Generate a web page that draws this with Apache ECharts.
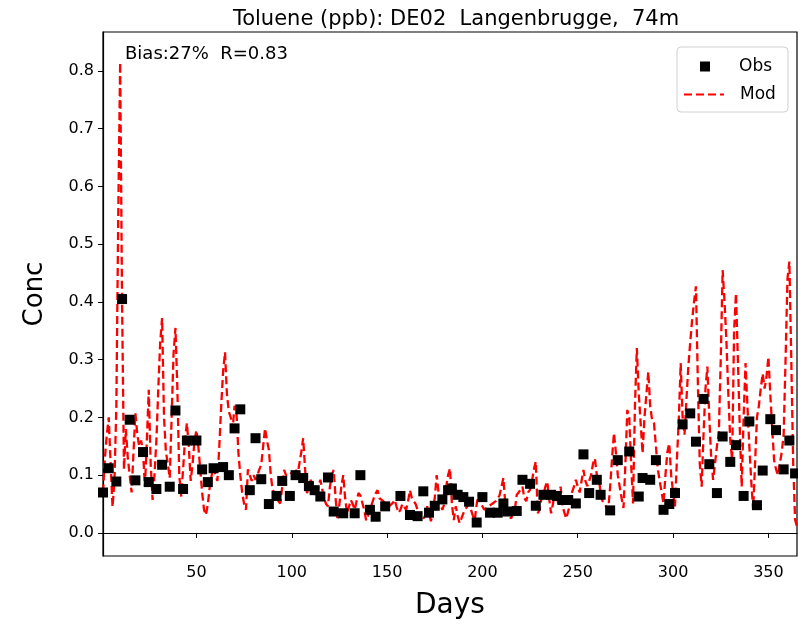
<!DOCTYPE html>
<html lang="en">
<head>
    <meta charset="UTF-8">
    <title>Toluene DE02</title>
    <script type="text/javascript" src="https://cdn.jsdelivr.net/npm/echarts@6/dist/echarts.min.js"></script>
    <style>
        body { margin: 0; background: #fff; overflow: hidden; }
    </style>
</head>
<body>
<div id="container" style="width: 798px; height: 629px"></div>
<script>
    // observed samples: [day, conc]
    let obsDays = [1, 4, 8, 11, 15, 18, 22, 25, 29, 32, 36, 39, 43, 45, 50, 53, 56, 59, 64, 67, 70, 73, 78, 81, 84, 88, 92, 95, 99, 102,
        106, 109, 112, 115, 119, 122, 127, 133, 136, 141, 144, 149, 157, 162, 166, 169, 172, 175, 179, 182, 184, 187, 190, 193, 197, 200,
        204, 208, 211, 213, 218, 221, 225, 228, 232, 236, 239, 242, 245, 249, 253, 256, 260, 262, 267, 271, 277, 282, 284, 288, 291, 295,
        298, 301, 305, 309, 312, 316, 319, 323, 326, 330, 333, 337, 340, 344, 347, 351, 354, 358, 361, 364];
    let obsValues = [0.070, 0.112, 0.089, 0.405, 0.196, 0.091, 0.140, 0.088, 0.076, 0.118, 0.080, 0.212, 0.076, 0.160, 0.160, 0.110, 0.088, 0.112, 0.114, 0.100,
        0.181, 0.214, 0.074, 0.164, 0.093, 0.050, 0.064, 0.090, 0.064, 0.100,
        0.095, 0.081, 0.074, 0.063, 0.096, 0.037, 0.034, 0.034, 0.100, 0.040, 0.028, 0.046, 0.064, 0.031, 0.029, 0.072, 0.035, 0.047, 0.058, 0.074, 0.077, 0.066, 0.062, 0.054, 0.018, 0.062,
        0.035, 0.035, 0.051, 0.037, 0.038, 0.092, 0.085, 0.047, 0.066, 0.066, 0.064, 0.057, 0.057, 0.051, 0.136, 0.069, 0.092, 0.066, 0.039, 0.126, 0.141, 0.063, 0.095, 0.092, 0.126, 0.040,
        0.050, 0.069, 0.188, 0.207, 0.158, 0.232, 0.119, 0.069, 0.167, 0.123, 0.152, 0.064, 0.193, 0.048, 0.108, 0.197, 0.178, 0.110, 0.160, 0.103];

    // model, one value per day (day 1 .. 365)
    let modValues = [
        0.07, 0.13, 0.17, 0.20, 0.12, 0.045, 0.09, 0.22, 0.55, 0.815,
        0.40, 0.11, 0.18, 0.13, 0.10, 0.07, 0.14, 0.207, 0.17, 0.15,
        0.16, 0.14, 0.08, 0.16, 0.248, 0.12, 0.057, 0.10, 0.16, 0.25,
        0.33, 0.372, 0.20, 0.14, 0.12, 0.095, 0.20, 0.31, 0.355, 0.25,
        0.10, 0.063, 0.11, 0.16, 0.19, 0.15, 0.09, 0.12, 0.16, 0.178,
        0.15, 0.11, 0.07, 0.04, 0.031, 0.05, 0.08, 0.10, 0.115, 0.10,
        0.09, 0.15, 0.22, 0.28, 0.313, 0.24, 0.21, 0.20, 0.18, 0.22,
        0.21, 0.14, 0.10, 0.07, 0.05, 0.04, 0.11, 0.10, 0.09, 0.10,
        0.092, 0.10, 0.11, 0.118, 0.15, 0.181, 0.16, 0.144, 0.10, 0.074,
        0.07, 0.06, 0.055, 0.051, 0.08, 0.109, 0.10, 0.098, 0.10, 0.105,
        0.10, 0.11, 0.10, 0.12, 0.14, 0.164, 0.11, 0.069, 0.08, 0.092,
        0.08, 0.07, 0.063, 0.08, 0.092, 0.075, 0.06, 0.05, 0.046, 0.08,
        0.10, 0.109, 0.06, 0.022, 0.05, 0.08, 0.10, 0.06, 0.034, 0.045,
        0.057, 0.05, 0.04, 0.055, 0.069, 0.065, 0.063, 0.04, 0.022, 0.03,
        0.04, 0.05, 0.06, 0.068, 0.074, 0.06, 0.063, 0.055, 0.05, 0.048,
        0.046, 0.046, 0.052, 0.057, 0.045, 0.035, 0.04, 0.05, 0.045, 0.04,
        0.055, 0.074, 0.06, 0.055, 0.05, 0.04, 0.03, 0.02, 0.017, 0.03,
        0.046, 0.035, 0.02, 0.017, 0.06, 0.10, 0.07, 0.05, 0.04, 0.05,
        0.08, 0.10, 0.112, 0.05, 0.022, 0.046, 0.03, 0.017, 0.025, 0.034,
        0.04, 0.046, 0.05, 0.04, 0.03, 0.022, 0.05, 0.066, 0.05, 0.046,
        0.04, 0.04, 0.046, 0.045, 0.05, 0.052, 0.055, 0.058, 0.065, 0.08,
        0.095, 0.05, 0.04, 0.03, 0.025, 0.022, 0.04, 0.066, 0.07, 0.075,
        0.08, 0.06, 0.055, 0.07, 0.075, 0.09, 0.11, 0.124, 0.034, 0.04,
        0.06, 0.066, 0.08, 0.089, 0.06, 0.034, 0.05, 0.074, 0.06, 0.05,
        0.08, 0.046, 0.035, 0.025, 0.023, 0.05, 0.07, 0.08, 0.092, 0.08,
        0.07, 0.09, 0.109, 0.09, 0.081, 0.09, 0.10, 0.12, 0.129, 0.10,
        0.095, 0.07, 0.055, 0.05, 0.045, 0.04, 0.08, 0.13, 0.173, 0.14,
        0.10, 0.08, 0.06, 0.043, 0.12, 0.213, 0.20, 0.12, 0.051, 0.22,
        0.32, 0.242, 0.19, 0.138, 0.20, 0.24, 0.279, 0.22, 0.195, 0.19,
        0.15, 0.11, 0.09, 0.07, 0.051, 0.10, 0.14, 0.155, 0.10, 0.07,
        0.046, 0.126, 0.196, 0.294, 0.20, 0.17, 0.23, 0.288, 0.33, 0.369,
        0.40, 0.427, 0.26, 0.12, 0.08, 0.173, 0.25, 0.288, 0.20, 0.13,
        0.092, 0.12, 0.15, 0.173, 0.30, 0.455, 0.40, 0.33, 0.24, 0.16,
        0.126, 0.35, 0.415, 0.30, 0.18, 0.08, 0.20, 0.294, 0.22, 0.15,
        0.09, 0.04, 0.12, 0.20, 0.22, 0.25, 0.276, 0.25, 0.27, 0.305,
        0.24, 0.18, 0.126, 0.11, 0.10, 0.098, 0.14, 0.17, 0.30, 0.44,
        0.47, 0.30, 0.12, 0.023, 0.01
    ];
    let yTicks = [0.0, 0.1, 0.2, 0.3, 0.4, 0.5, 0.6, 0.7, 0.8];
    let xTicks = [50, 100, 150, 200, 250, 300, 350];

    let obsData = obsDays.map((d, i) => [d, obsValues[i]]);
    let modData = modValues.map((v, i) => [i + 1, v]);

    let font = 'DejaVu Sans';
    var myChart = echarts.init(document.getElementById('container'));
    var option = {
        animation: false,
        backgroundColor: '#fff',
        textStyle: { fontFamily: font },
        title: [{
            text: 'Toluene (ppb): DE02  Langenbrugge,  74m',
            left: 451, top: 4, textAlign: 'center',
            textStyle: { fontSize: 21, fontWeight: 'normal', color: '#000', fontFamily: font }
        }, {
            text: 'Bias:27%  R=0.83',
            left: 120, top: 40,
            textStyle: { fontSize: 18, fontWeight: 'normal', color: '#000', fontFamily: font }
        }],
        graphic: [{
            // legend frame
            type: 'rect',
            shape: { x: 677, y: 47, width: 111, height: 65, r: 4 },
            style: { fill: 'rgba(255,255,255,0.8)', stroke: '#d0d0d0', lineWidth: 1 },
            z: 5
        }],
        legend: [{
            left: 700, top: 58, padding: 0,
            itemWidth: 10, itemHeight: 10,
            textStyle: { fontSize: 17, color: '#000', fontFamily: font, padding: [0, 0, 0, 24] },
            data: [{ name: 'Obs', icon: 'rect' }],
            z: 6
        }, {
            left: 683, top: 86, padding: 0,
            itemWidth: 40, itemHeight: 12,
            itemStyle: { opacity: 0 },
            textStyle: { fontSize: 17, color: '#000', fontFamily: font, padding: [0, 0, 0, 11] },
            data: [{ name: 'Mod' }],
            z: 6
        }],
        grid: { left: 103, right: 1, top: 32, bottom: 73, show: true, borderColor: '#000', borderWidth: 1.2 },
        xAxis: {
            type: 'value', min: 1, max: 365,
            name: 'Days', nameLocation: 'middle', nameGap: 36,
            nameTextStyle: { fontSize: 28, color: '#000', fontFamily: font },
            axisLine: { lineStyle: { color: '#000', width: 1.2 } },
            axisTick: { customValues: xTicks, length: 5, lineStyle: { color: '#000' } },
            axisLabel: { customValues: xTicks, fontSize: 16, color: '#000', margin: 9 },
            splitLine: { show: false }
        },
        yAxis: {
            type: 'value', min: -0.04, max: 0.8675,
            name: 'Conc', nameLocation: 'middle', nameGap: 55, nameRotate: 90,
            nameTextStyle: { fontSize: 26, color: '#000', fontFamily: font },
            axisLine: { show: true, lineStyle: { color: '#000', width: 1.2 } },
            axisTick: { show: true, customValues: yTicks, length: 5, lineStyle: { color: '#000' } },
            axisLabel: { customValues: yTicks, fontSize: 16, color: '#000', margin: 9, formatter: v => v.toFixed(1) },
            splitLine: { show: false }
        },
        series: [{
            name: 'Mod',
            type: 'line',
            data: modData,
            symbol: 'none',
            z: 2,
            lineStyle: { color: '#ff0000', width: 2.3, type: [8, 4] },
            itemStyle: { color: '#ff0000' }
        }, {
            name: 'Obs',
            type: 'scatter',
            data: obsData,
            symbol: 'rect',
            symbolSize: 10,
            z: 3,
            itemStyle: { color: '#000', opacity: 1 }
        }]
    };
    myChart.setOption(option);
</script>
</body>
</html>
